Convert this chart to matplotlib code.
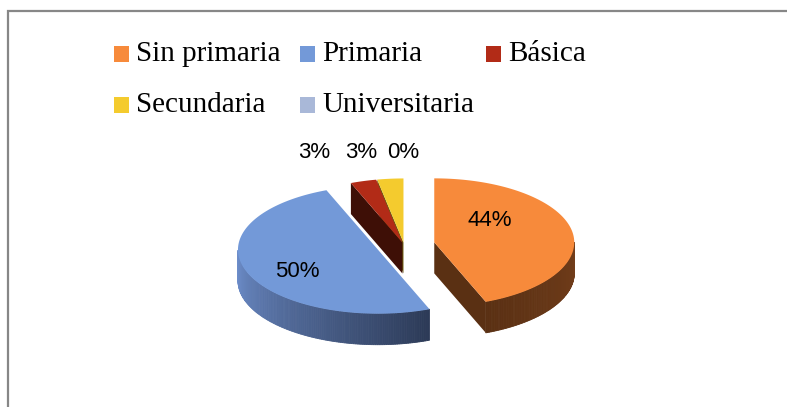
import numpy as np
import matplotlib
matplotlib.use("Agg")
import matplotlib.pyplot as plt
from matplotlib.patches import Polygon, Rectangle
from matplotlib.colors import to_rgb

# Datos
categorias = ['Sin primaria', 'Primaria', 'Básica', 'Secundaria', 'Universitaria']
porcentajes = [44, 50, 3, 3, 0]
etiquetas = ['44%', '50%', '3%', '3%', '0%']

# Colores (cara superior, lateral claro, lateral oscuro)
col_top = ['#F78A3B', '#7399D8', '#B22B17', '#F4CB2E', '#A9B8D8']
col_lado1 = ['#723D1A', '#6F90CE', '#541509', '#8C7A1A', '#6F7D99']
col_lado2 = ['#5A3013', '#2C3A57', '#3E0F06', '#6E5E10', '#55607A']

# Geometria del pastel (en pixeles)
CX, CY = 404, 245
RX, RY = 140, 64
H = 31
explode = [0.22, 0.20, 0.04, 0.04, 0.04]


def punto(cx, cy, r, ang):
    a = np.deg2rad(ang)
    return cx + RX * r * np.cos(a), cy - RY * r * np.sin(a)


def mezcla(c1, c2, f):
    a, b = np.array(to_rgb(c1)), np.array(to_rgb(c2))
    return tuple(a + (b - a) * f)


fig = plt.figure(figsize=(7.87, 4.07), dpi=100)
ax = fig.add_axes([0, 0, 1, 1])
ax.set_xlim(0, 787)
ax.set_ylim(407, 0)
ax.axis('off')

# Marco gris (arriba e izquierda)
fig.patches.append(Rectangle((8 / 787, -0.1), 1.2, (407 - 11) / 407 + 0.1,
                             transform=fig.transFigure, fill=False,
                             edgecolor='#878787', linewidth=1.6))

# Angulos de cada sector (sentido horario desde arriba)
total = sum(porcentajes)
cum = np.concatenate([[0], np.cumsum(porcentajes)])
sectores = []
for i in range(len(porcentajes)):
    hi = 90 - 360 * cum[i] / total
    lo = 90 - 360 * cum[i + 1] / total
    sectores.append((lo, hi))

# orden de dibujo: primero los de atras
orden = [4, 3, 2, 0, 1]
for i in orden:
    lo, hi = sectores[i]
    if hi - lo <= 0:
        continue
    mid = (lo + hi) / 2
    cx, cy = punto(CX, CY, explode[i], mid)

    # caras radiales
    for ang, vis in [(lo, np.cos(np.deg2rad(lo)) > 0), (hi, np.cos(np.deg2rad(hi)) < 0)]:
        if vis:
            x1, y1 = punto(cx, cy, 1, ang)
            ax.add_patch(Polygon([(cx, cy), (x1, y1), (x1, y1 + H), (cx, cy + H)],
                                 closed=True, facecolor=col_lado2[i], edgecolor='none'))

    # borde exterior
    angs = np.linspace(lo, hi, 200)
    vis_angs = [a for a in angs if np.sin(np.deg2rad(a)) < 0]
    if vis_angs:
        a0, a1 = vis_angs[0], vis_angs[-1]
        for k in range(len(angs) - 1):
            am = (angs[k] + angs[k + 1]) / 2
            if np.sin(np.deg2rad(am)) >= 0:
                continue
            f = (a1 - am) / (a1 - a0 + 1e-9)
            if i == 1:
                f = 1 - f
            c = mezcla(col_lado1[i], col_lado2[i], f)
            xa, ya = punto(cx, cy, 1, angs[k])
            xb, yb = punto(cx, cy, 1, angs[k + 1])
            ax.add_patch(Polygon([(xa, ya), (xb, yb), (xb, yb + H), (xa, ya + H)],
                                 closed=True, facecolor=c, edgecolor=c, linewidth=0.6))

    # cara superior
    xs, ys = punto(cx, cy, 1, np.linspace(hi, lo, 120))
    ax.add_patch(Polygon(np.column_stack([np.r_[cx, xs], np.r_[cy, ys]]),
                         closed=True, facecolor=col_top[i], edgecolor='none'))

# Etiquetas de porcentaje
fuente = dict(fontsize=16, family='Liberation Sans', color='black', ha='center', va='center')
for i in [0, 1]:
    lo, hi = sectores[i]
    mid = (lo + hi) / 2
    cx, cy = punto(CX, CY, explode[i], mid)
    r = 0.4 if i == 0 else 0.62
    x, y = punto(cx, cy, r, mid)
    dy = -17 if i == 0 else 7
    ax.text(x, y + dy, etiquetas[i], **fuente)

# etiquetas de los sectores pequenos, fuera del pastel
x_peq = [314, 361, 403]
for k, i in enumerate([2, 3, 4]):
    ax.text(x_peq[k], 153, etiquetas[i], **fuente)

# Leyenda (3 columnas de igual ancho)
for j, nombre in enumerate(categorias):
    fila, colm = divmod(j, 3)
    x0 = 114 + colm * 186
    y0 = 54 + fila * 51
    ax.add_patch(Rectangle((x0, y0 - 8), 15, 16, facecolor=col_top[j], edgecolor='none'))
    ax.text(x0 + 22, y0, nombre, fontsize=21, family='Liberation Serif',
            ha='left', va='center')

fig.savefig('out.png', dpi=100)
